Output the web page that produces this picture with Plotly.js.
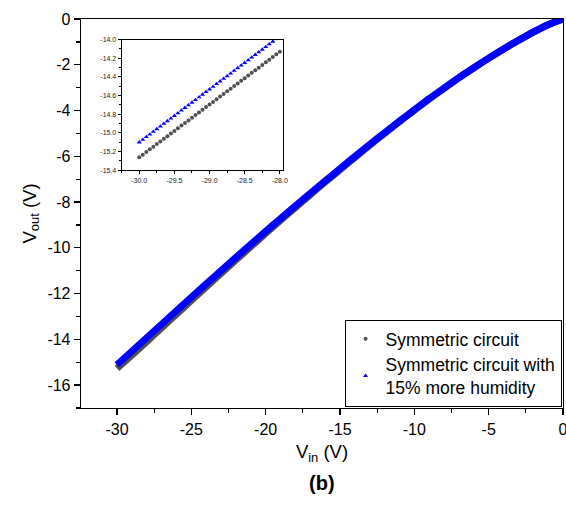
<!DOCTYPE html>
<html>
<head>
<meta charset="utf-8">
<script src="https://cdn.plot.ly/plotly-3.0.1.min.js"></script>
<style>html,body{margin:0;padding:0;background:#fff;}#chart{width:566px;height:505px;}</style>
</head>
<body>
<div id="chart"></div>
<script>
// Main curve, Vin (V)
var vin = [-30,-29,-28,-27,-26,-25,-24,-23,-22,-21,-20,-19,-18,-17,-16,-15,-14,-13,-12,-11,-10,-9,-8,-7,-6,-5,-4,-3,-2,-1,0];
// Vout for the symmetric circuit
var voutSym = [-15.27,-14.69,-14.10,-13.50,-12.90,-12.30,-11.71,-11.12,-10.53,-9.95,-9.37,-8.80,-8.24,-7.68,-7.13,-6.59,-6.05,-5.52,-5.00,-4.49,-3.99,-3.50,-3.03,-2.57,-2.14,-1.72,-1.32,-0.94,-0.57,-0.25,0.00];
// Vout for the symmetric circuit with 15% more humidity
var voutHum = [-15.11,-14.52,-13.93,-13.34,-12.75,-12.16,-11.58,-11.00,-10.42,-9.85,-9.28,-8.72,-8.17,-7.62,-7.08,-6.54,-6.01,-5.48,-4.97,-4.46,-3.97,-3.48,-3.02,-2.56,-2.13,-1.71,-1.31,-0.93,-0.57,-0.25,0.00];

// Inset (zoom of -30 .. -28 V)
var vinInset = [-30.00,-29.95,-29.90,-29.85,-29.80,-29.75,-29.70,-29.65,-29.60,-29.55,-29.50,-29.45,-29.40,-29.35,-29.30,-29.25,-29.20,-29.15,-29.10,-29.05,-29.00,-28.95,-28.90,-28.85,-28.80,-28.75,-28.70,-28.65,-28.60,-28.55,-28.50,-28.45,-28.40,-28.35,-28.30,-28.25,-28.20,-28.15,-28.10,-28.05,-28.00];
var insetSym = [-15.260,-15.232,-15.204,-15.175,-15.147,-15.119,-15.091,-15.062,-15.034,-15.006,-14.978,-14.949,-14.921,-14.893,-14.865,-14.836,-14.808,-14.780,-14.752,-14.723,-14.695,-14.667,-14.639,-14.610,-14.582,-14.554,-14.526,-14.497,-14.469,-14.441,-14.413,-14.384,-14.356,-14.328,-14.300,-14.271,-14.243,-14.215,-14.187,-14.158,-14.130];
var insetHum = [-15.100,-15.072,-15.043,-15.015,-14.986,-14.958,-14.930,-14.901,-14.873,-14.844,-14.816,-14.788,-14.759,-14.731,-14.702,-14.674,-14.646,-14.617,-14.589,-14.560,-14.532,-14.504,-14.475,-14.447,-14.418,-14.390,-14.362,-14.333,-14.305,-14.276,-14.248,-14.220,-14.191,-14.163,-14.134,-14.106,-14.078,-14.049,-14.021,-13.992,-13.964];

// Tick labels
var xTickVals = [-30,-25,-20,-15,-10,-5,0];
var xTickText = ["-30","-25","-20","-15","-10","-5","0"];
var yTickVals = [0,-2,-4,-6,-8,-10,-12,-14,-16];
var yTickText = ["0","-2","-4","-6","-8","-10","-12","-14","-16"];
var x2TickVals = [-30,-29.5,-29,-28.5,-28];
var x2TickText = ["-30.0","-29.5","-29.0","-28.5","-28.0"];
var y2TickVals = [-14.0,-14.2,-14.4,-14.6,-14.8,-15.0,-15.2,-15.4];
var y2TickText = ["-14.0","-14.2","-14.4","-14.6","-14.8","-15.0","-15.2","-15.4"];

var names = ["Symmetric circuit", "Symmetric circuit with<br>15% more humidity"];
var grayC = "#505050", blueC = "#0000ff";
var font = "Liberation Sans, Arial, sans-serif";

var traces = [
  {x: vin, y: voutSym, mode: "lines", line: {color: grayC, width: 7, shape: "spline", smoothing: 0.6}, showlegend: false, xaxis: "x", yaxis: "y", hoverinfo: "skip"},
  {x: vin, y: voutHum, mode: "lines", line: {color: blueC, width: 7, shape: "spline", smoothing: 0.6}, showlegend: false, xaxis: "x", yaxis: "y", hoverinfo: "skip"},
  {x: vinInset, y: insetSym, name: names[0], mode: "markers", marker: {color: grayC, size: 4, symbol: "circle"}, xaxis: "x2", yaxis: "y2"},
  {x: vinInset, y: insetHum, name: names[1], mode: "markers", marker: {color: blueC, size: 4.5, symbol: "triangle-up"}, xaxis: "x2", yaxis: "y2"}
];

var axBase = {showgrid: false, zeroline: false, showline: true, linecolor: "#000", linewidth: 1.3, mirror: true, ticks: "outside", tickcolor: "#000", tickwidth: 1.3, ticklabeloverflow: "allow"};

var layout = {
  width: 566, height: 505,
  margin: {l: 81, r: 3, t: 19, b: 97},
  paper_bgcolor: "#fff", plot_bgcolor: "#fff",
  font: {family: font, color: "#000", size: 16},
  showlegend: true,
  legend: {x: 0.997, y: 0.003, xanchor: "right", yanchor: "bottom", bgcolor: "#fff", bordercolor: "#000", borderwidth: 1, font: {size: 17.5, family: font}, tracegroupgap: 0, itemsizing: "trace", itemwidth: 30},
  xaxis: Object.assign({}, axBase, {
    range: [-32.42, 0], tickmode: "array", tickvals: xTickVals, ticktext: xTickText, ticklen: 6,
    minor: {tickmode: "linear", tick0: 0, dtick: 2.5, ticks: "outside", ticklen: 4, tickcolor: "#000", tickwidth: 1.3},
    tickfont: {size: 16},
    title: {text: "V<sub>in</sub> (V)", font: {size: 18.5}, standoff: 8}
  }),
  yaxis: Object.assign({}, axBase, {
    range: [-17, 0], tickmode: "array", tickvals: yTickVals, ticktext: yTickText, ticklen: 6,
    minor: {tickmode: "linear", tick0: 0, dtick: 1, ticks: "outside", ticklen: 4, tickcolor: "#000", tickwidth: 1.3},
    tickfont: {size: 16},
    title: {text: "V<sub>out</sub> (V)", font: {size: 18.5}, standoff: 6}
  }),
  xaxis2: {
    domain: [0.0844, 0.4184], anchor: "y2", range: [-30.25, -27.96],
    showgrid: false, zeroline: false, showline: true, linecolor: "#000", linewidth: 1, mirror: true,
    ticks: "outside", ticklen: 3, tickcolor: "#000", tickmode: "array", tickvals: x2TickVals, ticktext: x2TickText,
    minor: {tickmode: "linear", tick0: -30, dtick: 0.25, ticks: "outside", ticklen: 2, tickcolor: "#000"},
    tickfont: {size: 7, color: "#222"}
  },
  yaxis2: {
    domain: [0.611, 0.947], anchor: "x2", range: [-15.4, -14.0],
    showgrid: false, zeroline: false, showline: true, linecolor: "#000", linewidth: 1, mirror: true,
    ticks: "outside", ticklen: 3, tickcolor: "#000", tickmode: "array", tickvals: y2TickVals, ticktext: y2TickText,
    minor: {tickmode: "linear", tick0: -14, dtick: 0.1, ticks: "outside", ticklen: 2, tickcolor: "#000"},
    tickfont: {size: 7, color: "#222"}
  },
  annotations: [{
    text: "<b>(b)</b>", xref: "paper", yref: "paper", x: 0.5, y: -0.193, xanchor: "center", yanchor: "middle",
    showarrow: false, font: {size: 20, family: font}
  }]
};

Plotly.newPlot("chart", traces, layout, {displayModeBar: false, staticPlot: true});
</script>
</body>
</html>
